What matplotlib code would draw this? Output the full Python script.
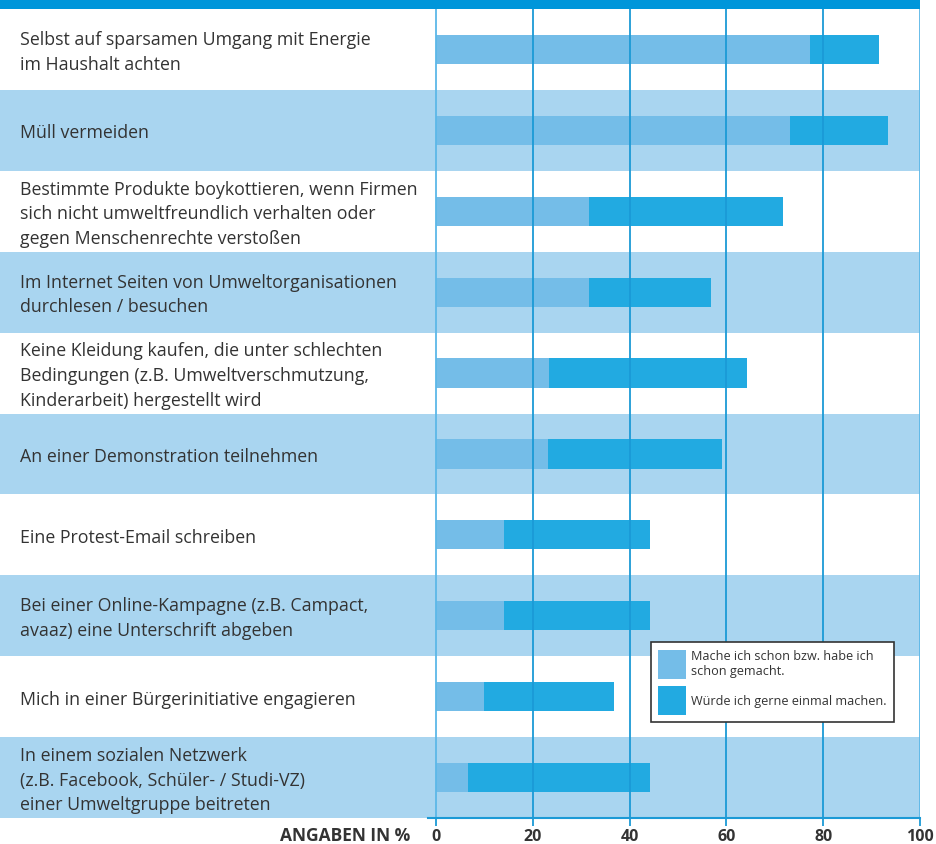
import matplotlib
matplotlib.use("Agg")
import matplotlib.pyplot as plt
from matplotlib.patches import Patch

plt.rcParams['font.family'] = ['Open Sans', 'DejaVu Sans']

categories = [
    "Selbst auf sparsamen Umgang mit Energie\nim Haushalt achten",
    "Müll vermeiden",
    "Bestimmte Produkte boykottieren, wenn Firmen\nsich nicht umweltfreundlich verhalten oder\ngegen Menschenrechte verstoßen",
    "Im Internet Seiten von Umweltorganisationen\ndurchlesen / besuchen",
    "Keine Kleidung kaufen, die unter schlechten\nBedingungen (z.B. Umweltverschmutzung,\nKinderarbeit) hergestellt wird",
    "An einer Demonstration teilnehmen",
    "Eine Protest-Email schreiben",
    "Bei einer Online-Kampagne (z.B. Campact,\navaaz) eine Unterschrift abgeben",
    "Mich in einer Bürgerinitiative engagieren",
    "In einem sozialen Netzwerk\n(z.B. Facebook, Schüler- / Studi-VZ)\neiner Umweltgruppe beitreten",
]
schon_gemacht = [77.3, 73.1, 31.6, 31.6, 23.3, 23.1, 14.0, 14.0, 9.9, 6.6]
gesamt = [91.5, 93.4, 71.7, 56.8, 64.3, 59.1, 44.2, 44.2, 36.8, 44.2]
gerne = [g - s for g, s in zip(gesamt, schon_gemacht)]
xticks = [0, 20, 40, 60, 80, 100]
legend_labels = ["Mache ich schon bzw. habe ich\nschon gemacht.", "Würde ich gerne einmal machen."]
axis_label = "ANGABEN IN %"

LIGHT = '#74bde8'
DARK = '#22aae1'
BAND = '#a9d5f0'
TOP = '#0096da'
GRID = '#1b9ad6'
TEXT = '#333333'

W, H = 936, 845
fig = plt.figure(figsize=(W / 100, H / 100), dpi=100)
ppu = 484 / 100.0
xmin = -436 / ppu
ax = fig.add_axes([0, 26 / H, 920 / W, 819 / H])
rowpx = 809 / 10
ytop = 10 + 10 / rowpx
ax.set_xlim(xmin, 100)
ax.set_ylim(0, ytop)

n = len(categories)
ys = [n - 1 - i + 0.5 for i in range(n)]
for i in range(n):
    if i % 2 == 1:
        ax.axhspan(n - 1 - i, n - i, color=BAND, lw=0, zorder=0)
ax.axhspan(10, ytop, color=TOP, lw=0, zorder=0)

bh = 0.36
ax.barh(ys, schon_gemacht, height=bh, color=LIGHT, zorder=2, lw=0)
ax.barh(ys, gerne, left=schon_gemacht, height=bh, color=DARK, zorder=2, lw=0)

for v in xticks:
    c = '#5cb8e8' if v in (0, 100) else GRID
    ax.plot([v, v], [0, 10], color=c, lw=1.3, zorder=3, solid_capstyle='butt')

for y, lab in zip(ys, categories):
    ax.text(xmin + 20 / ppu, y - 2 / rowpx, lab, ha='left', va='center', fontsize=12.8,
            color=TEXT, linespacing=1.47, zorder=4)

for s in ['top', 'right', 'left']:
    ax.spines[s].set_visible(False)
ax.spines['bottom'].set_color(GRID)
ax.spines['bottom'].set_linewidth(1.5)
ax.spines['bottom'].set_bounds(-8 / ppu, 100)
ax.spines['bottom'].set_zorder(5)
ax.set_yticks([])
ax.set_xticks(xticks)
ax.set_xticklabels([])
ax.tick_params(axis='x', length=5.5, width=1.3, color=GRID, pad=2)

bl = -(841 - 819) / rowpx
for v in xticks:
    ax.text(v, bl, str(v), ha='center', va='baseline', fontsize=11.5,
            fontweight='bold', color=TEXT, clip_on=False)
ax.text(-5.3, bl, axis_label, ha='right', va='baseline', fontsize=12.5,
        fontweight='bold', color=TEXT, clip_on=False)

handles = [Patch(facecolor=LIGHT, edgecolor='none'), Patch(facecolor=DARK, edgecolor='none')]
leg = ax.legend(handles, legend_labels, loc='upper left',
                bbox_to_anchor=(651 / W, 1 - 643 / H), bbox_transform=fig.transFigure,
                fontsize=9.1, frameon=True, fancybox=False, framealpha=1,
                edgecolor='#333333', handlelength=2.2, handleheight=3.1,
                handletextpad=0.45, labelspacing=0.6, borderpad=0.55, borderaxespad=0)
leg.get_frame().set_linewidth(1.2)
for t in leg.get_texts():
    t.set_color(TEXT)
leg.set_zorder(10)

fig.savefig('out.png', dpi=100)
